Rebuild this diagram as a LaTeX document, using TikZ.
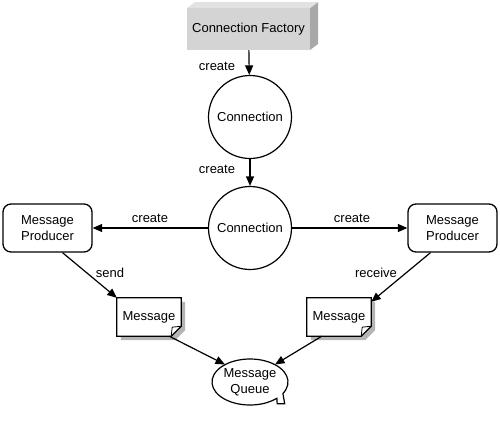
\documentclass[tikz,border=0pt]{standalone}
\usepackage{fontspec}
\setmainfont{Liberation Sans}
\usetikzlibrary{arrows.meta,shapes.geometric,calc}
\definecolor{frontgray}{HTML}{D4D4D4}
\definecolor{topgray}{HTML}{E2E2E2}
\definecolor{sidegray}{HTML}{A8A8A8}
\definecolor{shadowgray}{HTML}{B4B4B4}
\newcommand\mydocshape[1]{%
  \fill[shadowgray] ([shift={(4pt,-4pt)}]#1.north west) -- ([shift={(4pt,-4pt)}]#1.north east)
     -- ([shift={(4pt,6pt)}]#1.south east) -- ([shift={(-6pt,-4pt)}]#1.south east)
     -- ([shift={(4pt,-4pt)}]#1.south west) -- cycle;
  \draw[line width=1.2pt, fill=white] (#1.north west) -- (#1.north east)
     -- ([yshift=10pt]#1.south east) -- ([xshift=-10pt]#1.south east) -- (#1.south west) -- cycle;
  \draw[line width=0.8pt] ([xshift=-10pt]#1.south east) -- ([shift={(-9pt,9pt)}]#1.south east)
     -- ([yshift=10pt]#1.south east);
}
\begin{document}
\begin{tikzpicture}[x=1pt,y=-1pt,
  every node/.style={font=\fontsize{13}{15.5}\selectfont},
  arr/.style={draw, line width=1.2pt, -{Triangle[length=9.5pt,width=8pt]}},
  conn/.style={circle, draw, line width=1.2pt, minimum size=83pt, inner sep=0pt, fill=white},
  prod/.style={draw, line width=1.3pt, rounded corners=8pt, minimum width=89pt, minimum height=48pt, align=center, inner sep=0pt},
  doc/.style={minimum width=64pt, minimum height=38pt, inner sep=0pt},
  lbl/.style={inner sep=0pt}]
\useasboundingbox (0,0) rectangle (500,421);

% connection factory (3D box)
\fill[sidegray] (310,8) -- (318,2) -- (318,44) -- (310,50) -- cycle;
\fill[topgray] (187,8) -- (195,2) -- (318,2) -- (310,8) -- cycle;
\node[fill=frontgray, minimum width=123pt, minimum height=42pt, inner sep=0pt] (cf) at (248.5,29) {Connection Factory};

% connections
\node[conn] (c1) at (250,117) {Connection};
\node[conn] (c2) at (250,228) {Connection};

% producers
\node[prod] (pl) at (47.5,228) {Message\\Producer};
\node[prod] (pr) at (452.5,228) {Message\\Producer};

% messages
\node[doc] (ml) at (149,317) {};
\mydocshape{ml}
\node (mlt) at (ml) {Message};
\node[doc] (mr) at (339,317) {};
\mydocshape{mr}
\node (mrt) at (mr) {Message};

% queue
\node[ellipse, minimum width=76pt, minimum height=46pt, inner sep=0pt] (q) at (250,382) {};
\begin{scope}[shift={(q.center)}]
\draw[line width=1.2pt, fill=white] (-30:38pt and 23pt)
   arc[start angle=-30, end angle=315, x radius=38pt, y radius=23pt]
   -- ++(0.3pt,-5.5pt) -- ++(7.5pt,0pt) -- cycle;
\end{scope}
\node[align=center] (qt) at (q) {Message\\Queue};

% connectors
\draw[arr] (cf) -- (c1);
\draw[arr] (c1) -- (c2);
\draw[arr] (c2) -- (pl);
\draw[arr] (c2) -- (pr);
\draw[arr] ([xshift=15pt]pl.south) -- (ml.north west);
\draw[arr] ([xshift=-22pt]pr.south) -- ([yshift=-4pt]mr.north east);
\draw[arr] ([xshift=-12pt]ml.south east) -- (q.145);
\draw[arr] ([xshift=15pt]mr.south west) -- (q.35);

% labels
\node[lbl] (l1) at (217,66) {create};
\node[lbl] (l2) at (217,169) {create};
\node[lbl] (l3) at (150,218) {create};
\node[lbl] (l4) at (352,218) {create};
\node[lbl] (l5) at (110,273) {send};
\node[lbl] (l6) at (376,273) {receive};
\end{tikzpicture}
\end{document}
